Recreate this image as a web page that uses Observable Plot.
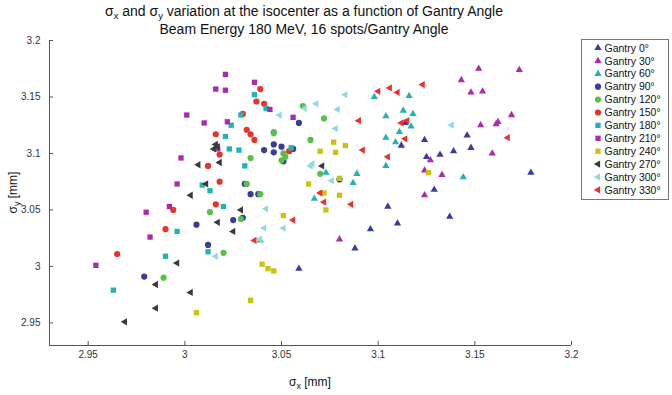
<!DOCTYPE html>
<html><head><meta charset="utf-8">
<script src="https://cdn.jsdelivr.net/npm/d3@7"></script>
<script src="https://cdn.jsdelivr.net/npm/@observablehq/plot@0.6"></script>
<style>
body{margin:0;background:#fff;}
svg{display:block;font-family:"Liberation Sans",Arial,sans-serif;}
</style>
</head><body><div id="chart"></div>
<script>
// ---- data (sigma_x, sigma_y in mm) ----
const seriesNames = ["Gantry 0°","Gantry 30°","Gantry 60°","Gantry 90°","Gantry 120°","Gantry 150°","Gantry 180°","Gantry 210°","Gantry 240°","Gantry 270°","Gantry 300°","Gantry 330°"];
const xTicks = [2.95, 3, 3.05, 3.1, 3.15, 3.2];
const yTicks = [2.95, 3, 3.05, 3.1, 3.15, 3.2];
const xDomain = [2.93, 3.2];
const yDomain = [2.93, 3.2];

const g0x = [3.114,3.124,3.112,3.146,3.148,3.139,3.132,3.125,3.179,3.129,3.105,3.137,3.110,3.096,3.088,3.059];
const g0y = [3.127,3.112,3.107,3.116,3.105,3.102,3.099,3.097,3.083,3.068,3.053,3.044,3.038,3.033,3.016,2.998];
const g30x = [3.152,3.173,3.143,3.148,3.154,3.169,3.153,3.162,3.161,3.159,3.127,3.124,3.133,3.124,3.080];
const g30y = [3.175,3.174,3.165,3.154,3.155,3.134,3.125,3.128,3.126,3.100,3.094,3.085,3.081,3.063,3.024];
const g60x = [3.098,3.116,3.104,3.113,3.118,3.117,3.111,3.104,3.109,3.104,3.089,3.087,3.144,3.073,3.067,3.039];
const g60y = [3.150,3.151,3.133,3.138,3.135,3.124,3.119,3.114,3.110,3.089,3.082,3.074,3.079,3.083,3.060,3.023];
const g90x = [3.059,3.046,3.050,3.056,3.041,3.046,3.051,3.031,3.034,3.038,3.025,3.030,3.006,3.012,2.979,3.080];
const g90y = [3.127,3.108,3.106,3.104,3.103,3.101,3.093,3.073,3.064,3.064,3.041,3.043,3.037,3.019,2.991,3.077];
const g120x = [3.061,3.072,3.046,3.046,3.065,3.051,3.052,3.034,3.050,3.032,3.039,3.013,3.029,3.070,3.020,2.989];
const g120y = [3.142,3.131,3.119,3.118,3.112,3.100,3.097,3.096,3.094,3.073,3.064,3.048,3.042,3.082,3.012,2.990];
const g150x = [3.039,3.037,3.041,3.030,3.032,3.034,3.036,3.016,3.018,3.054,3.012,3.018,3.016,2.994,2.990,2.965];
const g150y = [3.157,3.146,3.144,3.135,3.121,3.117,3.112,3.117,3.099,3.102,3.089,3.075,3.055,3.050,3.033,3.011];
const g180x = [3.036,3.042,3.029,3.024,3.021,3.023,3.028,3.055,3.031,3.009,3.013,3.020,2.996,3.012,2.990,2.963];
const g180y = [3.152,3.140,3.134,3.125,3.115,3.104,3.103,3.105,3.089,3.072,3.067,3.053,3.031,3.013,3.009,2.979];
const g210x = [3.001,3.010,2.998,3.021,3.016,3.021,3.036,3.044,3.056,3.022,3.017,2.996,2.992,2.980,2.982,2.954];
const g210y = [3.134,3.127,3.096,3.170,3.157,3.156,3.163,3.139,3.132,3.128,3.104,3.073,3.053,3.048,3.026,3.001];
const g240x = [3.077,3.070,3.078,3.083,3.064,3.080,3.072,3.080,3.073,3.051,3.126,3.040,3.043,3.046,3.034,3.006];
const g240y = [3.110,3.102,3.101,3.107,3.073,3.078,3.065,3.063,3.050,3.045,3.083,3.002,2.998,2.996,2.970,2.959];
const g270x = [3.016,3.015,3.017,3.007,3.018,3.003,3.011,3.029,3.017,3.025,3.071,2.996,2.985,3.003,2.985,2.969];
const g270y = [3.108,3.104,3.106,3.090,3.092,3.063,3.073,3.050,3.039,3.031,3.089,3.003,2.984,2.977,2.963,2.951];
const g300x = [3.068,3.062,3.049,3.079,3.078,3.083,3.138,3.066,3.065,3.076,3.042,3.041,3.051,3.039,3.016];
const g300y = [3.144,3.140,3.134,3.139,3.122,3.152,3.125,3.091,3.089,3.076,3.051,3.034,3.034,3.024,3.009];
const g330x = [3.100,3.106,3.110,3.123,3.090,3.112,3.115,3.114,3.092,3.105,3.167,3.070,3.072,3.086,3.056,3.036];
const g330y = [3.155,3.158,3.154,3.161,3.129,3.127,3.129,3.113,3.103,3.097,3.114,3.065,3.057,3.055,3.041,3.023];

const seriesX = [g0x,g30x,g60x,g90x,g120x,g150x,g180x,g210x,g240x,g270x,g300x,g330x];
const seriesY = [g0y,g30y,g60y,g90y,g120y,g150y,g180y,g210y,g240y,g270y,g300y,g330y];

// ---- styles ----
const seriesColors = ["#383c9c","#a92ca8","#22b2b2","#383c9c","#5abf4a","#e8322c","#22b2b2","#a92ca8","#c4c411","#3a3a3a","#8fdada","#e8322c"];
const seriesShapes = ["up","up","up","circle","circle","circle","square","square","square","left","left","left"];

const triangleLeft = {
  draw(context, size) {
    const y = -Math.sqrt(size / (Math.sqrt(3) * 3));
    const s3 = Math.sqrt(3);
    context.moveTo(y * 2, 0);
    context.lineTo(-y, -s3 * y);
    context.lineTo(-y, s3 * y);
    context.closePath();
  }
};
const shapeSymbol = {up: d3.symbolTriangle, circle: d3.symbolCircle, square: d3.symbolSquare, left: triangleLeft};
const shapeR = {up: 2.7, circle: 3.1, square: 3.0, left: 2.7};

const marks = [];
marks.push(Plot.ruleX([xDomain[0]], {stroke: "#555", strokeWidth: 1}));
marks.push(Plot.ruleY([yDomain[0]], {stroke: "#555", strokeWidth: 1}));
seriesNames.forEach((name, i) => {
  const rows = seriesX[i].map((x, j) => ({x, y: seriesY[i][j]}));
  marks.push(Plot.dot(rows, {
    x: "x", y: "y",
    symbol: shapeSymbol[seriesShapes[i]],
    r: shapeR[seriesShapes[i]],
    fill: seriesColors[i],
    stroke: "none"
  }));
});
marks.push(Plot.axisX(xTicks, {tickSize: -4, tickPadding: 9, label: null, fontSize: 10, tickFormat: d => String(d), stroke: "#555", color: "#333"}));
marks.push(Plot.axisY(yTicks, {tickSize: -4, tickPadding: 13, label: null, fontSize: 10, tickFormat: d => String(d), stroke: "#555", color: "#333"}));

const chart = Plot.plot({
  width: 672, height: 395,
  marginTop: 40, marginLeft: 49, marginRight: 101, marginBottom: 50,
  style: {background: "#fff", fontFamily: "Liberation Sans, Arial, sans-serif"},
  x: {domain: xDomain},
  y: {domain: yDomain},
  marks
});
document.getElementById("chart").appendChild(chart);

// ---- titles, axis labels, legend ----
const svg = d3.select(chart);
const cx = 49 + (571 - 49) / 2;
const t1 = svg.append("text").attr("x", cx - 6).attr("y", 16).attr("text-anchor", "middle").attr("font-size", 14).attr("fill", "#111");
t1.append("tspan").text("σ");
t1.append("tspan").attr("font-size", 9.5).attr("dy", 2.5).text("x");
t1.append("tspan").attr("dy", -2.5).text(" and σ");
t1.append("tspan").attr("font-size", 9.5).attr("dy", 2.5).text("y");
t1.append("tspan").attr("dy", -2.5).text(" variation at the isocenter as a function of Gantry Angle");
svg.append("text").attr("x", cx - 6).attr("y", 34).attr("text-anchor", "middle").attr("font-size", 14).attr("fill", "#111")
  .text("Beam Energy 180 MeV, 16 spots/Gantry Angle");

const xl = svg.append("text").attr("x", cx).attr("y", 386).attr("text-anchor", "middle").attr("font-size", 12).attr("fill", "#111");
xl.append("tspan").text("σ");
xl.append("tspan").attr("font-size", 9).attr("dy", 3).text("x");
xl.append("tspan").attr("dy", -3).text(" [mm]");

const yl = svg.append("text").attr("transform", `translate(17,${(40 + 345) / 2}) rotate(-90)`).attr("text-anchor", "middle").attr("font-size", 12).attr("fill", "#111");
yl.append("tspan").text("σ");
yl.append("tspan").attr("font-size", 9).attr("dy", 3).text("y");
yl.append("tspan").attr("dy", -3).text(" [mm]");

const lg = svg.append("g").attr("text-anchor", "start");
lg.append("rect").attr("x", 581.5).attr("y", 39.5).attr("width", 87).attr("height", 160).attr("fill", "#fff").attr("stroke", "#777");
seriesNames.forEach((name, i) => {
  const y = 48 + i * 12.9;
  const r = shapeR[seriesShapes[i]];
  lg.append("path").attr("transform", `translate(598,${y})`)
    .attr("d", d3.symbol(shapeSymbol[seriesShapes[i]], Math.PI * r * r)())
    .attr("fill", seriesColors[i]);
  lg.append("text").attr("x", 604.5).attr("y", y).attr("dy", "0.35em").attr("text-anchor", "start")
    .attr("font-size", 10.5).attr("fill", "#111").text(name);
});
</script>
</body></html>
